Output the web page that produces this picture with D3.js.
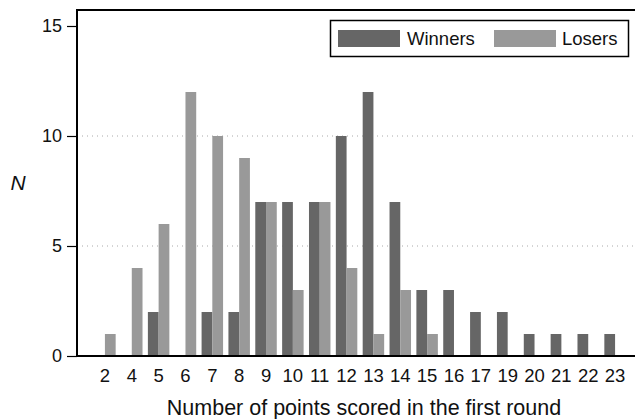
<!DOCTYPE html>
<meta charset="utf-8">
<script src="https://d3js.org/d3.v7.min.js"></script>
<style>
  body { margin: 0; background: #fff; }
  text { font-family: "Liberation Sans", Arial, sans-serif; }
</style>
<body>
<div id="chart"></div>
<script>
// points scored in the first round
var categories = ["2","4","5","6","7","8","9","10","11","12","13","14","15","16","17","19","20","21","22","23"];
var winners = [0,0,2,0,2,2,7,7,7,10,12,7,3,3,2,2,1,1,1,1];
var losers  = [1,4,6,12,10,9,7,3,7,4,1,3,1,0,0,0,0,0,0,0];
var yTicks = [0, 5, 10, 15];
var groups = ["Winners", "Losers"];
var colors = {Winners: "#666666", Losers: "#999999"};

var W = 635, H = 419;
var mLeft = 77, mTop = 10, mBottom = 356, mRight = 635;

var svg = d3.select("#chart").append("svg")
    .attr("width", W).attr("height", H);

var x = d3.scaleBand()
    .domain(categories)
    .range([91.5, 628.5])
    .paddingInner(0.2)
    .paddingOuter(0.1);

var xSub = d3.scaleBand()
    .domain(groups)
    .range([0, x.bandwidth()]);

var y = d3.scaleLinear()
    .domain([0, 15])
    .range([mBottom, 26]);

// dotted grid lines
svg.append("g")
  .selectAll("line")
  .data([5, 10])
  .enter().append("line")
    .attr("x1", mLeft).attr("x2", mRight)
    .attr("y1", function(d) { return y(d); })
    .attr("y2", function(d) { return y(d); })
    .attr("stroke", "#aaa")
    .attr("stroke-width", 1)
    .attr("stroke-dasharray", "1,4");

// bars
var data = categories.map(function(c, i) {
  return {cat: c, values: [{g: "Winners", v: winners[i]}, {g: "Losers", v: losers[i]}]};
});

svg.append("g")
  .selectAll("g")
  .data(data)
  .enter().append("g")
    .attr("transform", function(d) { return "translate(" + x(d.cat) + ",0)"; })
  .selectAll("rect")
  .data(function(d) { return d.values; })
  .enter().append("rect")
    .attr("x", function(d) { return xSub(d.g); })
    .attr("y", function(d) { return y(d.v); })
    .attr("width", xSub.bandwidth())
    .attr("height", function(d) { return mBottom - y(d.v); })
    .attr("fill", function(d) { return colors[d.g]; });

// frame: top, left, bottom
svg.append("path")
    .attr("d", "M" + mRight + "," + mTop + "H" + mLeft + "V" + mBottom + "H" + mRight)
    .attr("fill", "none")
    .attr("stroke", "#000")
    .attr("stroke-width", 2);

// y axis
var yAxis = svg.append("g")
    .attr("transform", "translate(" + mLeft + ",0)")
    .call(d3.axisLeft(y).tickValues(yTicks).tickSize(10).tickPadding(5));
yAxis.select(".domain").remove();
yAxis.selectAll(".tick line").attr("stroke", "#000").attr("stroke-width", 1.2);
yAxis.selectAll(".tick text")
    .style("font-size", "18px")
    .attr("fill", "#111");

// x labels
svg.append("g")
  .selectAll("text")
  .data(categories)
  .enter().append("text")
    .attr("x", function(d) { return x(d) + x.bandwidth() / 2; })
    .attr("y", 382)
    .attr("text-anchor", "middle")
    .style("font-size", "18.5px")
    .attr("fill", "#111")
    .text(function(d) { return d; });

// axis titles
svg.append("text")
    .attr("x", 364).attr("y", 415)
    .attr("text-anchor", "middle")
    .style("font-size", "21.5px")
    .attr("fill", "#111")
    .text("Number of points scored in the first round");

svg.append("text")
    .attr("x", 18).attr("y", 190)
    .attr("text-anchor", "middle")
    .style("font-size", "21px")
    .style("font-style", "italic")
    .attr("fill", "#111")
    .text("N");

// legend
var lg = svg.append("g");
lg.append("rect")
    .attr("x", 330.5).attr("y", 20.5)
    .attr("width", 298).attr("height", 36)
    .attr("fill", "#fff")
    .attr("stroke", "#000")
    .attr("stroke-width", 1.5);
var items = [{g: "Winners", x: 338, tx: 407}, {g: "Losers", x: 494, tx: 562}];
items.forEach(function(it) {
  lg.append("rect")
      .attr("x", it.x).attr("y", 30)
      .attr("width", 62).attr("height", 17)
      .attr("fill", colors[it.g]);
  lg.append("text")
      .attr("x", it.tx).attr("y", 45)
      .style("font-size", "18.5px")
      .attr("fill", "#111")
      .text(it.g);
});
</script>
</body>
